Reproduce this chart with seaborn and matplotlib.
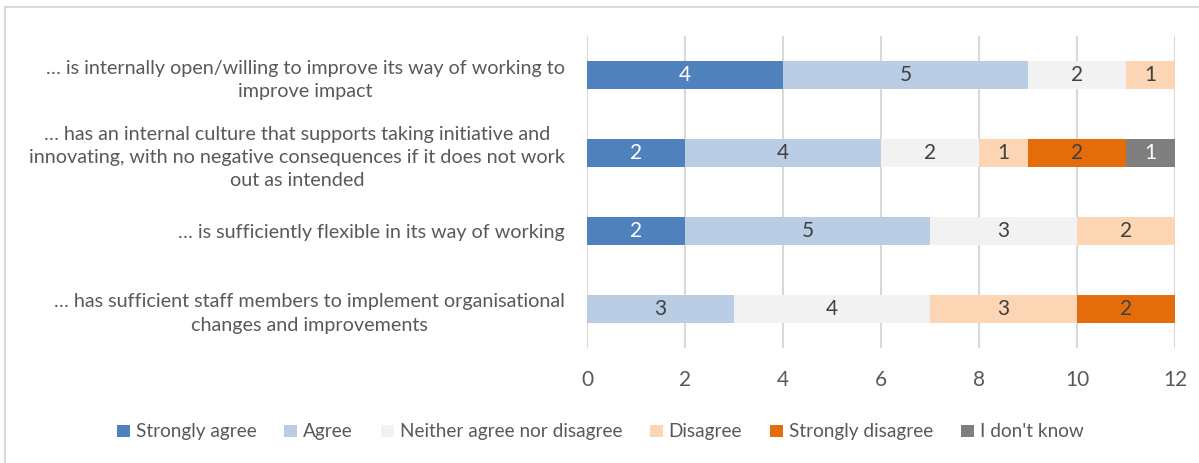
import numpy as np
import pandas as pd
import matplotlib
matplotlib.use("Agg")
import matplotlib.pyplot as plt
from matplotlib.patches import Rectangle, Patch
import seaborn as sns

categories = [
    "… is internally open/willing to improve its way of working to\nimprove impact",
    "… has an internal culture that supports taking initiative and\ninnovating, with no negative consequences if it does not work\nout as intended",
    "… is sufficiently flexible in its way of working",
    "… has sufficient staff members to implement organisational\nchanges and improvements",
]
responses = ["Strongly agree", "Agree", "Neither agree nor disagree",
             "Disagree", "Strongly disagree", "I don't know"]

strongly_agree = [4, 2, 2, 0]
agree = [5, 4, 5, 3]
neither = [2, 2, 3, 4]
disagree = [1, 1, 2, 3]
strongly_disagree = [0, 2, 0, 2]
dont_know = [0, 1, 0, 0]

x_ticks = [0, 2, 4, 6, 8, 10, 12]

colors = ["#4F81BD", "#B9CDE5", "#F2F2F2", "#FCD5B5", "#E46C0A", "#7F7F7F"]
text_colors = ["white", "#404040", "#404040", "#404040", "#404040", "white"]

series = [strongly_agree, agree, neither, disagree, strongly_disagree, dont_know]
values = pd.DataFrame(np.array(series).T, columns=responses)
values.insert(0, "statement", categories)
cum = values[responses].cumsum(axis=1)
cum.insert(0, "statement", categories)

sns.set_theme(style="white")
plt.rcParams["font.family"] = ["Lato", "DejaVu Sans"]

fig = plt.figure(figsize=(11.99, 4.63), dpi=100)
ax = fig.add_axes([0.4896, 0.2484, 0.4905, 0.6738])

# stacked bars: draw cumulative totals from the last response to the first
for resp, col in reversed(list(zip(responses, colors))):
    sns.barplot(data=cum, y="statement", x=resp, orient="h", color=col,
                width=0.355, ax=ax, saturation=1, linewidth=0, zorder=3)

# segment value labels
for i in range(len(categories)):
    left = 0
    for j, resp in enumerate(responses):
        v = values.loc[i, resp]
        if v > 0:
            ax.text(left + v / 2, i, f"{v}", ha="center", va="center",
                    fontsize=15, color=text_colors[j], zorder=5)
        left += v

ax.set_xlim(0, 12)
ax.set_ylim(3.5, -0.5)
ax.set_xticks(x_ticks)
ax.set_xticklabels([str(t) for t in x_ticks], fontsize=15, color="#595959")
ax.tick_params(axis="x", length=0, pad=16)
ax.tick_params(axis="y", length=0, pad=16)
ax.set_yticks(range(len(categories)))
ax.set_yticklabels(categories, fontsize=14.2, color="#595959",
                   ha="right", multialignment="center", linespacing=1.45)
ax.set_xlabel("")
ax.set_ylabel("")
ax.grid(axis="x", color="#D9D9D9", linewidth=1.5, zorder=0)
ax.grid(axis="y", visible=False)
for s in ax.spines.values():
    s.set_visible(False)

handles = [Patch(facecolor=c, edgecolor="none", label=r) for r, c in zip(responses, colors)]
fig.legend(handles=handles, loc="center", bbox_to_anchor=(0.5005, 0.067),
           ncol=6, frameon=False, fontsize=13.7, labelcolor="#595959",
           handlelength=0.7, handleheight=0.6, handletextpad=0.3,
           columnspacing=1.45)

# chart area frame
fig.patches.append(Rectangle((5 / 1199, -0.1), 1.2, (1 - 7 / 463) + 0.1,
                             transform=fig.transFigure, fill=False,
                             edgecolor="#D9D9D9", linewidth=1.5))

fig.savefig("out.png", dpi=100)
